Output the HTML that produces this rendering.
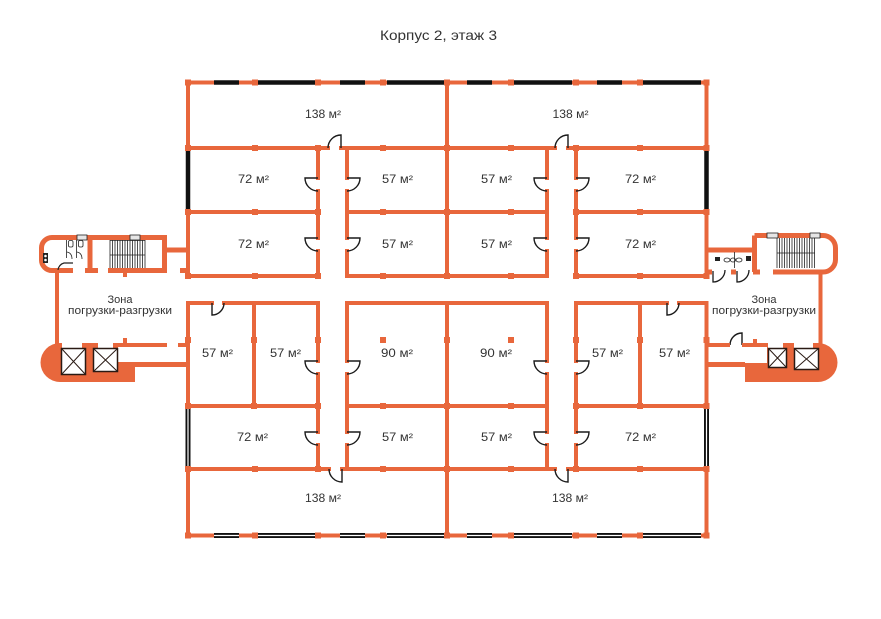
<!DOCTYPE html>
<html><head><meta charset="utf-8"><style>
html,body{margin:0;padding:0;background:#fff;}
svg{display:block;}
text{font-family:"Liberation Sans","Noto Sans CJK SC",sans-serif;fill:#333;}
</style></head><body>
<svg width="881" height="619" viewBox="0 0 881 619" xmlns="http://www.w3.org/2000/svg">
<rect width="881" height="619" fill="#fff"/>

<!-- Title -->
<text x="438.5" y="40" font-size="14" text-anchor="middle" textLength="117" lengthAdjust="spacingAndGlyphs">Корпус 2, этаж 3</text>

<!-- ===== Main building walls ===== -->
<g stroke="#e8673c" stroke-width="4" fill="none" stroke-linecap="square">
  <!-- outer -->
  <path d="M188 82.5H706.5M188 535.5H706.5"/>
  <path d="M188 82.5V276M188 303V535.5M706.5 82.5V276M706.5 303V535.5"/>
  <!-- center -->
  <path d="M447 82.5V276M447 303V535.5"/>
  <!-- horizontal rows -->
  <path d="M188 148H328M341 148H555M568 148H706.5"/>
  <path d="M188 212H318M347 212H547M576 212H706.5"/>
  <path d="M188 276H318M347 276H547M576 276H706.5"/>
  <path d="M188 303H212M224 303H318M347 303H547M576 303H667M679 303H706.5"/>
  <path d="M188 406H318M347 406H547M576 406H706.5"/>
  <path d="M188 469H329M342 469H555M568 469H706.5"/>
  <!-- corridor walls upper -->
  <path d="M318 148V178M318 191V238M318 251V276"/>
  <path d="M347 148V178M347 191V238M347 251V276"/>
  <path d="M547 148V178M547 191V238M547 251V276"/>
  <path d="M576 148V178M576 191V238M576 251V276"/>
  <!-- corridor walls lower -->
  <path d="M318 303V361M318 374V432M318 445V469"/>
  <path d="M347 303V361M347 374V432M347 445V469"/>
  <path d="M547 303V361M547 374V432M547 445V469"/>
  <path d="M576 303V361M576 374V432M576 445V469"/>
  <!-- partitions -->
  <path d="M254 303V406M640 303V406"/>
</g>

<!-- windows top (solid) -->
<g stroke="#111" stroke-width="4.5" fill="none">
  <path d="M214 82.5H239M258 82.5H316M340 82.5H365M387 82.5H445M467 82.5H492M513 82.5H572M597 82.5H622M643 82.5H701"/>
  <path d="M188 151V210M706.5 151V210"/>
</g>
<!-- windows bottom (double) -->
<g stroke="#111" stroke-width="5" fill="none">
  <path d="M214 535.5H239M258 535.5H316M340 535.5H365M387 535.5H445M467 535.5H492M513 535.5H572M597 535.5H622M643 535.5H701"/>
  <path d="M188 407V468M706.5 407V468"/>
</g>
<g stroke="#fff" stroke-width="1.2" fill="none">
  <path d="M214 535.5H239M258 535.5H316M340 535.5H365M387 535.5H445M467 535.5H492M513 535.5H572M597 535.5H622M643 535.5H701"/>
  <path d="M188 407V468M706.5 407V468"/>
</g>

<!-- dots / columns -->
<g fill="#e8673c">
  <!-- row 82.5 -->
  <rect x="185" y="79.5" width="6" height="6"/><rect x="252" y="79.5" width="6" height="6"/><rect x="315" y="79.5" width="6" height="6"/><rect x="380" y="79.5" width="6" height="6"/><rect x="444" y="79.5" width="6" height="6"/><rect x="508" y="79.5" width="6" height="6"/><rect x="573" y="79.5" width="6" height="6"/><rect x="637" y="79.5" width="6" height="6"/><rect x="703.5" y="79.5" width="6" height="6"/>
  <!-- row 148 -->
  <rect x="185" y="145" width="6" height="6"/><rect x="252" y="145" width="6" height="6"/><rect x="315" y="145" width="6" height="6"/><rect x="380" y="145" width="6" height="6"/><rect x="444" y="145" width="6" height="6"/><rect x="508" y="145" width="6" height="6"/><rect x="573" y="145" width="6" height="6"/><rect x="637" y="145" width="6" height="6"/><rect x="703.5" y="145" width="6" height="6"/>
  <!-- row 212 -->
  <rect x="185" y="209" width="6" height="6"/><rect x="252" y="209" width="6" height="6"/><rect x="315" y="209" width="6" height="6"/><rect x="380" y="209" width="6" height="6"/><rect x="444" y="209" width="6" height="6"/><rect x="508" y="209" width="6" height="6"/><rect x="573" y="209" width="6" height="6"/><rect x="637" y="209" width="6" height="6"/><rect x="703.5" y="209" width="6" height="6"/>
  <!-- row 276 -->
  <rect x="185" y="273" width="6" height="6"/><rect x="252" y="273" width="6" height="6"/><rect x="315" y="273" width="6" height="6"/><rect x="380" y="273" width="6" height="6"/><rect x="444" y="273" width="6" height="6"/><rect x="508" y="273" width="6" height="6"/><rect x="573" y="273" width="6" height="6"/><rect x="637" y="273" width="6" height="6"/><rect x="703.5" y="273" width="6" height="6"/>
  <!-- row 340 -->
  <rect x="185" y="337" width="6" height="6"/><rect x="251" y="337" width="6" height="6"/><rect x="315" y="337" width="6" height="6"/><rect x="380" y="337" width="6" height="6"/><rect x="444" y="337" width="6" height="6"/><rect x="508" y="337" width="6" height="6"/><rect x="573" y="337" width="6" height="6"/><rect x="637" y="337" width="6" height="6"/><rect x="703.5" y="337" width="6" height="6"/>
  <!-- row 406 -->
  <rect x="185" y="403" width="6" height="6"/><rect x="251" y="403" width="6" height="6"/><rect x="315" y="403" width="6" height="6"/><rect x="380" y="403" width="6" height="6"/><rect x="444" y="403" width="6" height="6"/><rect x="508" y="403" width="6" height="6"/><rect x="573" y="403" width="6" height="6"/><rect x="637" y="403" width="6" height="6"/><rect x="703.5" y="403" width="6" height="6"/>
  <!-- row 469 -->
  <rect x="185" y="466" width="6" height="6"/><rect x="252" y="466" width="6" height="6"/><rect x="315" y="466" width="6" height="6"/><rect x="380" y="466" width="6" height="6"/><rect x="444" y="466" width="6" height="6"/><rect x="508" y="466" width="6" height="6"/><rect x="573" y="466" width="6" height="6"/><rect x="637" y="466" width="6" height="6"/><rect x="703.5" y="466" width="6" height="6"/>
  <!-- row 535 -->
  <rect x="185" y="532.5" width="6" height="6"/><rect x="252" y="532.5" width="6" height="6"/><rect x="315" y="532.5" width="6" height="6"/><rect x="380" y="532.5" width="6" height="6"/><rect x="444" y="532.5" width="6" height="6"/><rect x="508" y="532.5" width="6" height="6"/><rect x="573" y="532.5" width="6" height="6"/><rect x="637" y="532.5" width="6" height="6"/><rect x="703.5" y="532.5" width="6" height="6"/>
</g>

<!-- doors -->
<g stroke="#1a1a1a" stroke-width="1.4" fill="none">
  <!-- corridor side doors, leaf to left -->
  <path d="M318 178H305A13 13 0 0 0 318 191"/>
  <path d="M318 238H305A13 13 0 0 0 318 251"/>
  <path d="M318 361H305A13 13 0 0 0 318 374"/>
  <path d="M318 432H305A13 13 0 0 0 318 445"/>
  <path d="M547 178H534A13 13 0 0 0 547 191"/>
  <path d="M547 238H534A13 13 0 0 0 547 251"/>
  <path d="M547 361H534A13 13 0 0 0 547 374"/>
  <path d="M547 432H534A13 13 0 0 0 547 445"/>
  <!-- leaf to right -->
  <path d="M347 178H360A13 13 0 0 1 347 191"/>
  <path d="M347 238H360A13 13 0 0 1 347 251"/>
  <path d="M347 361H360A13 13 0 0 1 347 374"/>
  <path d="M347 432H360A13 13 0 0 1 347 445"/>
  <path d="M576 178H589A13 13 0 0 1 576 191"/>
  <path d="M576 238H589A13 13 0 0 1 576 251"/>
  <path d="M576 361H589A13 13 0 0 1 576 374"/>
  <path d="M576 432H589A13 13 0 0 1 576 445"/>
  <!-- 138 doors top -->
  <path d="M341 148V135A13 13 0 0 0 328 148"/>
  <path d="M568 148V135A13 13 0 0 0 555 148"/>
  <!-- 138 doors bottom -->
  <path d="M342 469V482A13 13 0 0 1 329 469"/>
  <path d="M568 469V482A13 13 0 0 1 555 469"/>
  <!-- 57 side rooms top doors -->
  <path d="M212 303V315A12 12 0 0 0 224 303"/>
  <path d="M667 303V315A12 12 0 0 0 679 303"/>
  <!-- right loading corridor door -->
  <path d="M742 345V333A12 12 0 0 0 730 345"/>
</g>

<!-- ===== LEFT service block ===== -->
<g stroke="#e8673c" stroke-width="5" fill="none">
  <path d="M73 270.5H52A10.5 10.5 0 0 1 41.5 260V248A10.5 10.5 0 0 1 52 237.5H164.5V270.5H108"/>
  <path d="M85 270.5H98"/>
  <path d="M90 237.5V270.5"/>
  <path d="M164.5 250H188"/>
  <path d="M180 270.5H188"/>
</g>
<g stroke="#e8673c" stroke-width="4" fill="none">
  <path d="M57 270V345"/>
  <path d="M125 270V277M125 338V345"/>
  <path d="M113 345H167M178 345H188"/>
  <path d="M118 364.5H188" stroke-width="5"/>
</g>
<!-- left windows on stair block -->
<g stroke="#222" stroke-width="0.8" fill="#e6e6e6">
  <rect x="77" y="235" width="10" height="5"/>
  <rect x="130" y="235" width="10" height="5"/>
</g>
<!-- left stairs -->
<path d="M110 240V268M112.5 240V268M115 240V268M117.5 240V268M120 240V268M122.5 240V268M125 240V268M127.5 240V268M130 240V268M132.5 240V268M135 240V268M137.5 240V268M140 240V268M142.5 240V268M145 240V268M110 240.5H145M110 255H145" stroke="#222" stroke-width="0.8" fill="none"/>
<!-- left toilets -->
<g stroke="#222" stroke-width="0.8" fill="#fff">
  <path d="M66.5 240V258M76.5 240V258" fill="none"/>
  <rect x="68.5" y="240.5" width="4.5" height="6.5" rx="1.5"/>
  <rect x="78.5" y="240.5" width="4.5" height="6.5" rx="1.5"/>
  <path d="M67 252Q72 253 72 259M77 252Q82 253 82 259" fill="none"/>
  <path d="M73 263H64A8 8 0 0 0 58 270" fill="none" stroke-width="1.2"/>
</g>
<rect x="43" y="253" width="5" height="10" fill="#222"/>
<circle cx="45.5" cy="256" r="1.3" fill="#fff"/>
<circle cx="45.5" cy="260" r="1.3" fill="#fff"/>
<!-- left elevator blob -->
<path d="M60 343H118V363H135V382H60A19.5 19.5 0 0 1 60 343Z" fill="#e8673c"/>
<rect x="62" y="342" width="20" height="6" fill="#fff"/>
<rect x="98" y="342" width="15" height="6" fill="#fff"/>
<g stroke="#2a1a14" stroke-width="1.5" fill="#fff">
  <rect x="61.5" y="348.5" width="24" height="26"/>
  <rect x="93.5" y="348.5" width="24" height="23"/>
</g>
<g stroke="#2a1a14" stroke-width="1" fill="none">
  <path d="M61.5 348.5L85.5 374.5M85.5 348.5L61.5 374.5"/>
  <path d="M93.5 348.5L117.5 371.5M117.5 348.5L93.5 371.5"/>
</g>

<!-- ===== RIGHT service block ===== -->
<g stroke="#e8673c" stroke-width="5" fill="none">
  <path d="M706.5 250H754.5"/>
  <path d="M754.5 235.5H823A12.5 12.5 0 0 1 835.5 248V259.5A12.5 12.5 0 0 1 823 272H773"/>
  <path d="M754.5 235.5V272"/>
  <path d="M706.5 272H712M731 272H736M753 272H760"/>
</g>
<g stroke="#e8673c" stroke-width="4" fill="none">
  <path d="M820.5 272V345"/>
  <path d="M707 345H730M742 345H767"/>
  <path d="M755 339V345"/>
  <path d="M707 364.5H745" stroke-width="5"/>
</g>
<g stroke="#222" stroke-width="0.8" fill="#e6e6e6">
  <rect x="767" y="233" width="11" height="5"/>
  <rect x="810" y="233" width="10" height="5"/>
</g>
<path d="M777 238V268M779.5 238V268M782 238V268M784.5 238V268M787 238V268M789.5 238V268M792 238V268M794.5 238V268M797 238V268M799.5 238V268M802 238V268M804.5 238V268M807 238V268M809.5 238V268M812 238V268M814.5 238V268M777 253H815" stroke="#222" stroke-width="0.8" fill="none"/>
<!-- right toilets -->
<rect x="715" y="257" width="5" height="4" fill="#222"/>
<rect x="746" y="256" width="5" height="5" fill="#222"/>
<g stroke="#222" stroke-width="0.8" fill="#fff">
  <ellipse cx="727" cy="260" rx="3" ry="2"/>
  <ellipse cx="733" cy="260" rx="2.5" ry="2"/>
  <ellipse cx="739" cy="260" rx="3" ry="2"/>
  <path d="M734.5 252V268" fill="none"/>
</g>
<g stroke="#1a1a1a" stroke-width="1.3" fill="none">
  <path d="M713 271V282A12 12 0 0 0 725 270"/>
  <path d="M737 271V282A12 12 0 0 0 749 270"/>
</g>
<!-- right elevator blob -->
<path d="M767 343H818A19.5 19.5 0 0 1 818 382H745V363H767Z" fill="#e8673c"/>
<rect x="768" y="342" width="15" height="6" fill="#fff"/>
<rect x="794" y="342" width="19" height="6" fill="#fff"/>
<g stroke="#2a1a14" stroke-width="1.5" fill="#fff">
  <rect x="768.5" y="348.5" width="18" height="19"/>
  <rect x="794.5" y="348.5" width="24" height="21"/>
</g>
<g stroke="#2a1a14" stroke-width="1" fill="none">
  <path d="M768.5 348.5L786.5 367.5M786.5 348.5L768.5 367.5"/>
  <path d="M794.5 348.5L818.5 369.5M818.5 348.5L794.5 369.5"/>
</g>

<!-- ===== Labels ===== -->
<g font-size="11.5" text-anchor="middle">
  <text x="323" y="118" textLength="36" lengthAdjust="spacingAndGlyphs">138 м²</text>
  <text x="570.5" y="118" textLength="36" lengthAdjust="spacingAndGlyphs">138 м²</text>
  <text x="253.5" y="183" textLength="31" lengthAdjust="spacingAndGlyphs">72 м²</text>
  <text x="397.5" y="183" textLength="31" lengthAdjust="spacingAndGlyphs">57 м²</text>
  <text x="496.5" y="183" textLength="31" lengthAdjust="spacingAndGlyphs">57 м²</text>
  <text x="640.5" y="183" textLength="31" lengthAdjust="spacingAndGlyphs">72 м²</text>
  <text x="253.5" y="248" textLength="31" lengthAdjust="spacingAndGlyphs">72 м²</text>
  <text x="397.5" y="248" textLength="31" lengthAdjust="spacingAndGlyphs">57 м²</text>
  <text x="496.5" y="248" textLength="31" lengthAdjust="spacingAndGlyphs">57 м²</text>
  <text x="640.5" y="248" textLength="31" lengthAdjust="spacingAndGlyphs">72 м²</text>
  <text x="217.5" y="357" textLength="31" lengthAdjust="spacingAndGlyphs">57 м²</text>
  <text x="285.5" y="357" textLength="31" lengthAdjust="spacingAndGlyphs">57 м²</text>
  <text x="397" y="357" textLength="32" lengthAdjust="spacingAndGlyphs">90 м²</text>
  <text x="496" y="357" textLength="32" lengthAdjust="spacingAndGlyphs">90 м²</text>
  <text x="607.5" y="357" textLength="31" lengthAdjust="spacingAndGlyphs">57 м²</text>
  <text x="674.5" y="357" textLength="31" lengthAdjust="spacingAndGlyphs">57 м²</text>
  <text x="252.5" y="441" textLength="31" lengthAdjust="spacingAndGlyphs">72 м²</text>
  <text x="397.5" y="441" textLength="31" lengthAdjust="spacingAndGlyphs">57 м²</text>
  <text x="496.5" y="441" textLength="31" lengthAdjust="spacingAndGlyphs">57 м²</text>
  <text x="640.5" y="441" textLength="31" lengthAdjust="spacingAndGlyphs">72 м²</text>
  <text x="323" y="502" textLength="36" lengthAdjust="spacingAndGlyphs">138 м²</text>
  <text x="570" y="502" textLength="36" lengthAdjust="spacingAndGlyphs">138 м²</text>
</g>
<g font-size="11" text-anchor="middle">
  <text x="120" y="303" textLength="25" lengthAdjust="spacingAndGlyphs">Зона</text>
  <text x="120" y="314" textLength="104" lengthAdjust="spacingAndGlyphs">погрузки-разгрузки</text>
  <text x="764" y="303" textLength="25" lengthAdjust="spacingAndGlyphs">Зона</text>
  <text x="764" y="314" textLength="104" lengthAdjust="spacingAndGlyphs">погрузки-разгрузки</text>
</g>
</svg>
</body></html>
